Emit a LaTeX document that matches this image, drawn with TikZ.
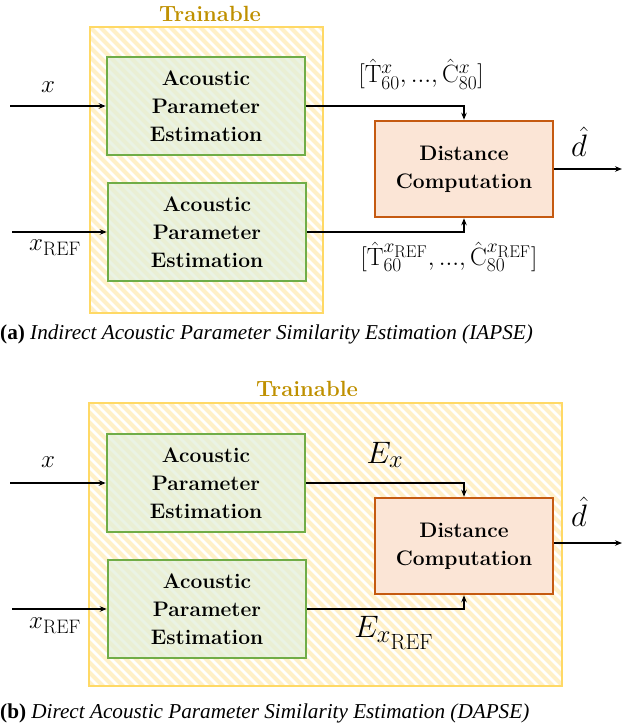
\RequirePackage{fix-cm}
\documentclass[tikz,border=0pt]{standalone}
\usepackage{fontspec}
\newfontfamily\capfont{Liberation Serif}
\usetikzlibrary{arrows.meta}
\DeclareMathSizes{25}{25}{19.5}{17}
\DeclareMathSizes{31}{31}{24.5}{22}
\definecolor{ylw}{RGB}{255,217,102}
\definecolor{ylwstripe}{RGB}{255,240,200}
\definecolor{gold}{RGB}{191,144,0}
\definecolor{grn}{RGB}{112,173,71}
\definecolor{grnfill}{RGB}{226,239,218}
\definecolor{org}{RGB}{197,90,17}
\definecolor{orgfill}{RGB}{251,229,214}
\begin{document}
\begin{tikzpicture}[x=1pt,y=-1pt,
 estbox/.style={draw=grn, line width=2.5pt, fill=grnfill, fill opacity=0.72, text opacity=1, minimum width=198pt, minimum height=98pt, align=center, font=\fontsize{21}{28}\selectfont\bfseries, inner sep=0pt},
 distbox/.style={draw=org, line width=2.5pt, fill=orgfill, minimum width=178pt, minimum height=96pt, align=center, font=\fontsize{21}{28}\selectfont\bfseries, inner sep=0pt},
 trainbox/.style={draw=ylw, line width=2.5pt, inner sep=0pt},
 stripe/.style={draw=ylwstripe, line width=4pt},
 conn/.style={line width=1.3pt, -{Stealth[length=7pt,width=5.5pt]}},
 mathlbl/.style={font=\fontsize{25}{30}\selectfont, inner sep=0pt},
 biglbl/.style={font=\fontsize{31}{36}\selectfont, inner sep=0pt},
 traintitle/.style={text=gold, font=\fontsize{22}{26}\selectfont\bfseries, inner sep=0pt},
 captext/.style={font=\fontsize{21.2}{25}\capfont, anchor=west, inner sep=0pt}]
\useasboundingbox (0,0) rectangle (622,727);

% ---------- panel (a) ----------
\begin{scope}
\clip (90,27) rectangle (323,313);
\foreach \i in {-300,-290,...,330} \draw[stripe] (\i,17) -- ++(310,310);
\end{scope}
\node[trainbox, minimum width=233pt, minimum height=286pt] (trA) at (206.5,170) {};
\node[traintitle] (ttA) at (210,14) {Trainable};

\node[estbox] (a1) at (206,106) {Acoustic\\Parameter\\Estimation};
\node[estbox] (a2) at (207,232) {Acoustic\\Parameter\\Estimation};
\node[distbox] (ad) at (464,169) {Distance\\Computation};

\coordinate (ainx) at (10,106);
\coordinate (ainr) at (12,232);
\coordinate (aout) at (622,169);

\draw[conn] (ainx) -- (a1.west);
\draw[conn] (ainr) -- (a2.west);
\draw[conn] (a1.east) -| (ad.north);
\draw[conn] (a2.east) -| (ad.south);
\draw[conn] (ad.east) -- (aout);

\node[mathlbl] (alx) at (48,87) {$x$};
\node[mathlbl] (alr) at (55,248) {$x_{\mathrm{REF}}$};
\node[mathlbl] (ap1) at (421,74) {$[\hat{\mathrm{T}}^{x}_{60}, ..., \hat{\mathrm{C}}^{x}_{80}]$};
\node[mathlbl] (ap2) at (449,257) {$[\hat{\mathrm{T}}^{x_{\mathrm{REF}}}_{60}, ..., \hat{\mathrm{C}}^{x_{\mathrm{REF}}}_{80}]$};
\node[biglbl] (ald) at (579,142) {$\hat{d}$};

\node[captext] (capA) at (0,334) {\textbf{(a)} \textit{Indirect Acoustic Parameter Similarity Estimation (IAPSE)}};

% ---------- panel (b) ----------
\begin{scope}
\clip (89,403) rectangle (562,686);
\foreach \i in {-300,-290,...,570} \draw[stripe] (\i,393) -- ++(310,310);
\end{scope}
\node[trainbox, minimum width=473pt, minimum height=283pt] (trB) at (325.5,544.5) {};
\node[traintitle] (ttB) at (307,389) {Trainable};

\node[estbox] (b1) at (206,483) {Acoustic\\Parameter\\Estimation};
\node[estbox] (b2) at (207,609) {Acoustic\\Parameter\\Estimation};
\node[distbox] (bd) at (464,546) {Distance\\Computation};

\coordinate (binx) at (10,483);
\coordinate (binr) at (12,609);
\coordinate (bout) at (622,543);

\draw[conn] (binx) -- (b1.west);
\draw[conn] (binr) -- (b2.west);
\draw[conn] (b1.east) -| (bd.north);
\draw[conn] (b2.east) -| (bd.south);
\draw[conn] (bd.east |- bout) -- (bout);

\node[mathlbl] (blx) at (48,462) {$x$};
\node[mathlbl] (blr) at (55,626) {$x_{\mathrm{REF}}$};
\node[biglbl] (bex) at (385,455) {$E_x$};
\node[biglbl] (ber) at (394,633) {$E_{x_{\mathrm{REF}}}$};
\node[biglbl] (bld) at (579,512) {$\hat{d}$};

\node[captext] (capB) at (0,713) {\textbf{(b)} \textit{Direct Acoustic Parameter Similarity Estimation (DAPSE)}};
\end{tikzpicture}
\end{document}
